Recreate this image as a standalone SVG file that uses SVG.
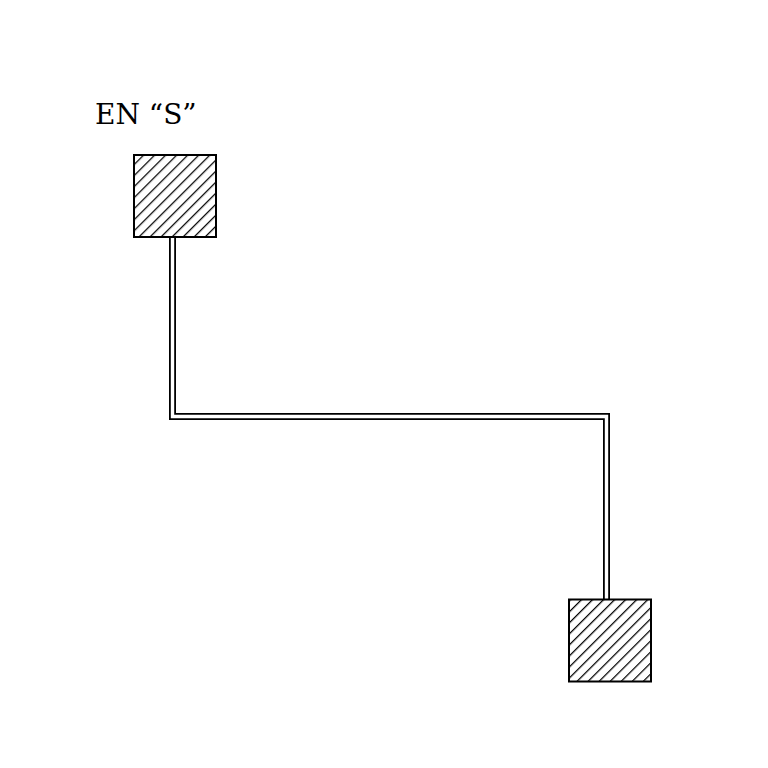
<svg xmlns="http://www.w3.org/2000/svg" width="768" height="768" viewBox="0 0 768 768">
  <defs>
    <pattern id="hatch" patternUnits="userSpaceOnUse" width="7.8" height="7.8" patternTransform="rotate(45)">
      <line x1="0" y1="0" x2="0" y2="7.8" stroke="#000" stroke-width="2.5"/>
    </pattern>
  </defs>
  <style>
    .label { font-family: "DejaVu Serif", "Liberation Serif", serif; font-size: 28px; fill: #000; }
    .box { fill: url(#hatch); stroke: #000; stroke-width: 2; }
    .pipe-outer { fill: none; stroke: #000; stroke-width: 7; stroke-linejoin: miter; }
    .pipe-inner { fill: none; stroke: #fff; stroke-width: 3.4; stroke-linejoin: miter; }
  </style>
  <rect width="768" height="768" fill="#fff"/>
  <g id="connectors">
    <polyline class="pipe-outer" points="172.5,238 172.5,416.5 606.5,416.5 606.5,599"/>
    <polyline class="pipe-inner" points="172.5,237 172.5,416.5 606.5,416.5 606.5,600"/>
  </g>
  <g id="node-top">
    <rect class="box" x="134" y="155" width="82" height="82"/>
  </g>
  <g id="node-bottom">
    <rect class="box" x="569" y="599.5" width="82" height="82"/>
  </g>
  <g id="label">
    <text class="label" x="95" y="124">EN “S”</text>
  </g>
</svg>
